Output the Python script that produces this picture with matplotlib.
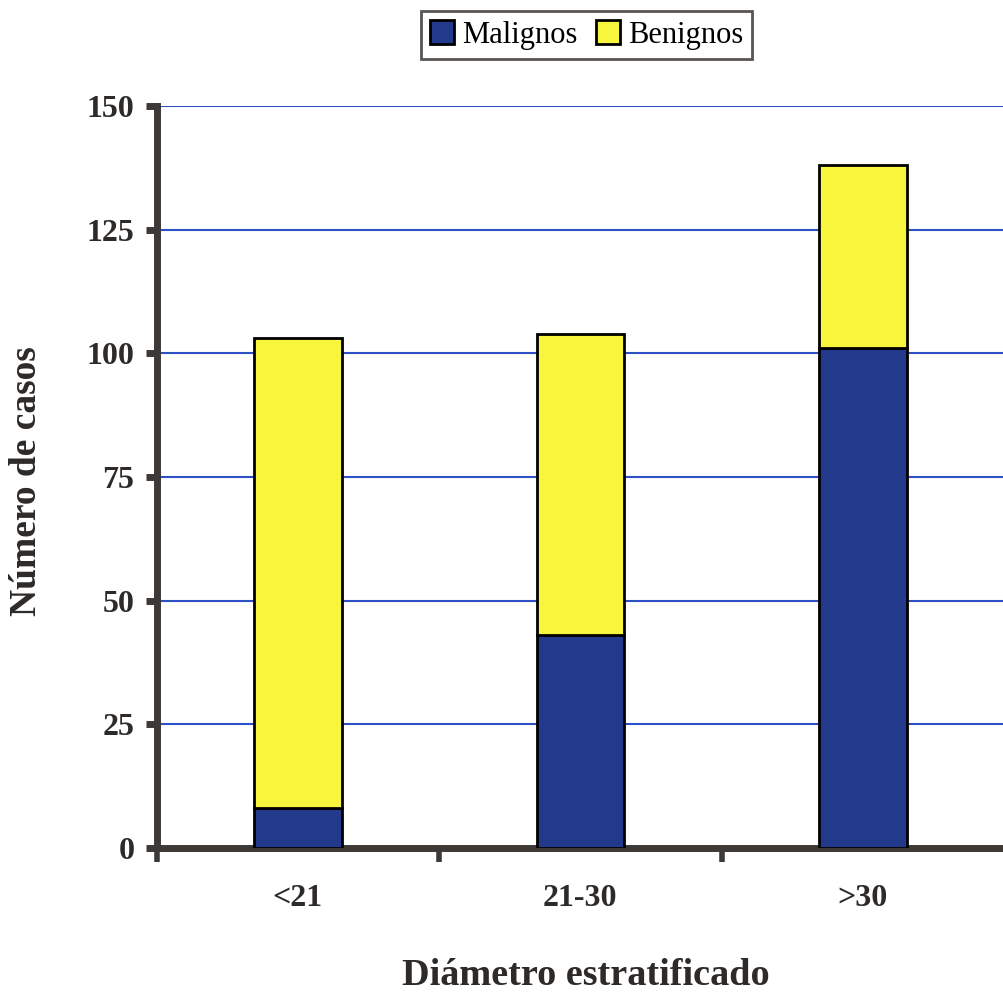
import matplotlib
matplotlib.use("Agg")
from matplotlib import pyplot as plt
from matplotlib.patches import Patch

# datos
categorias = ["<21", "21-30", ">30"]
malignos = [8, 43, 101]
benignos = [95, 61, 37]
yticks = [0, 25, 50, 75, 100, 125, 150]

azul = "#23398c"
amarillo = "#f7f53c"
gris = "#3d3936"

fig = plt.figure(figsize=(10.04, 9.96), dpi=100)
ax = fig.add_axes([0.156, 0.1486, 0.844, 0.745])

x = list(range(len(categorias)))
ax.bar(x, malignos, width=0.31, color=azul, edgecolor="black", linewidth=2, zorder=3)
ax.bar(x, benignos, width=0.31, bottom=malignos, color=amarillo,
       edgecolor="black", linewidth=2, zorder=3)

ax.set_xlim(-0.5, 2.5)
ax.set_ylim(0, 150)
ax.set_yticks(yticks)
ax.yaxis.grid(True, color="#2f4fc4", linewidth=1.5, zorder=0)
ax.set_axisbelow(True)

for s in ["top", "right"]:
    ax.spines[s].set_visible(False)
for s in ["left", "bottom"]:
    ax.spines[s].set_color(gris)
    ax.spines[s].set_linewidth(5)

# ticks del eje x en los limites de categoria, etiquetas en el centro
ax.set_xticks([-0.5, 0.5, 1.5])
ax.set_xticklabels([])
ax.set_xticks(x, minor=True)
ax.set_xticklabels(categorias, minor=True)
ax.tick_params(axis="x", which="major", direction="out", length=10, width=4, color=gris)
ax.tick_params(axis="x", which="minor", length=0, pad=26)
ax.tick_params(axis="y", direction="out", length=8, width=5, color=gris, pad=8)

for lab in ax.get_yticklabels() + ax.get_xticklabels(minor=True):
    lab.set_fontfamily("Liberation Serif")
    lab.set_fontweight("bold")
    lab.set_fontsize(23)
    lab.set_color("#2e2a28")

fig.text(27 / 1004, 1 - 481 / 996, "Número de casos", rotation=90, ha="center", va="center",
         fontsize=27, fontweight="bold", family="Liberation Serif", color="#2e2a28")
fig.text(586 / 1004, 1 - 975 / 996, "Diámetro estratificado", ha="center", va="center",
         fontsize=27.5, fontweight="bold", family="Liberation Serif", color="#2e2a28")

handles = [Patch(facecolor=azul, edgecolor="black", linewidth=2, label="Malignos"),
           Patch(facecolor=amarillo, edgecolor="black", linewidth=2, label="Benignos")]
leg = fig.legend(handles=handles, loc="center", bbox_to_anchor=(0.584, 0.965), ncol=2,
                 prop={"family": "Liberation Serif", "size": 22}, frameon=True, fancybox=False,
                 handlelength=0.8, handleheight=0.8, handletextpad=0.25, columnspacing=0.6,
                 borderpad=0.3)
leg.get_frame().set_edgecolor("#2e2a28")
leg.get_frame().set_linewidth(2)

fig.savefig("out.png", dpi=100)
